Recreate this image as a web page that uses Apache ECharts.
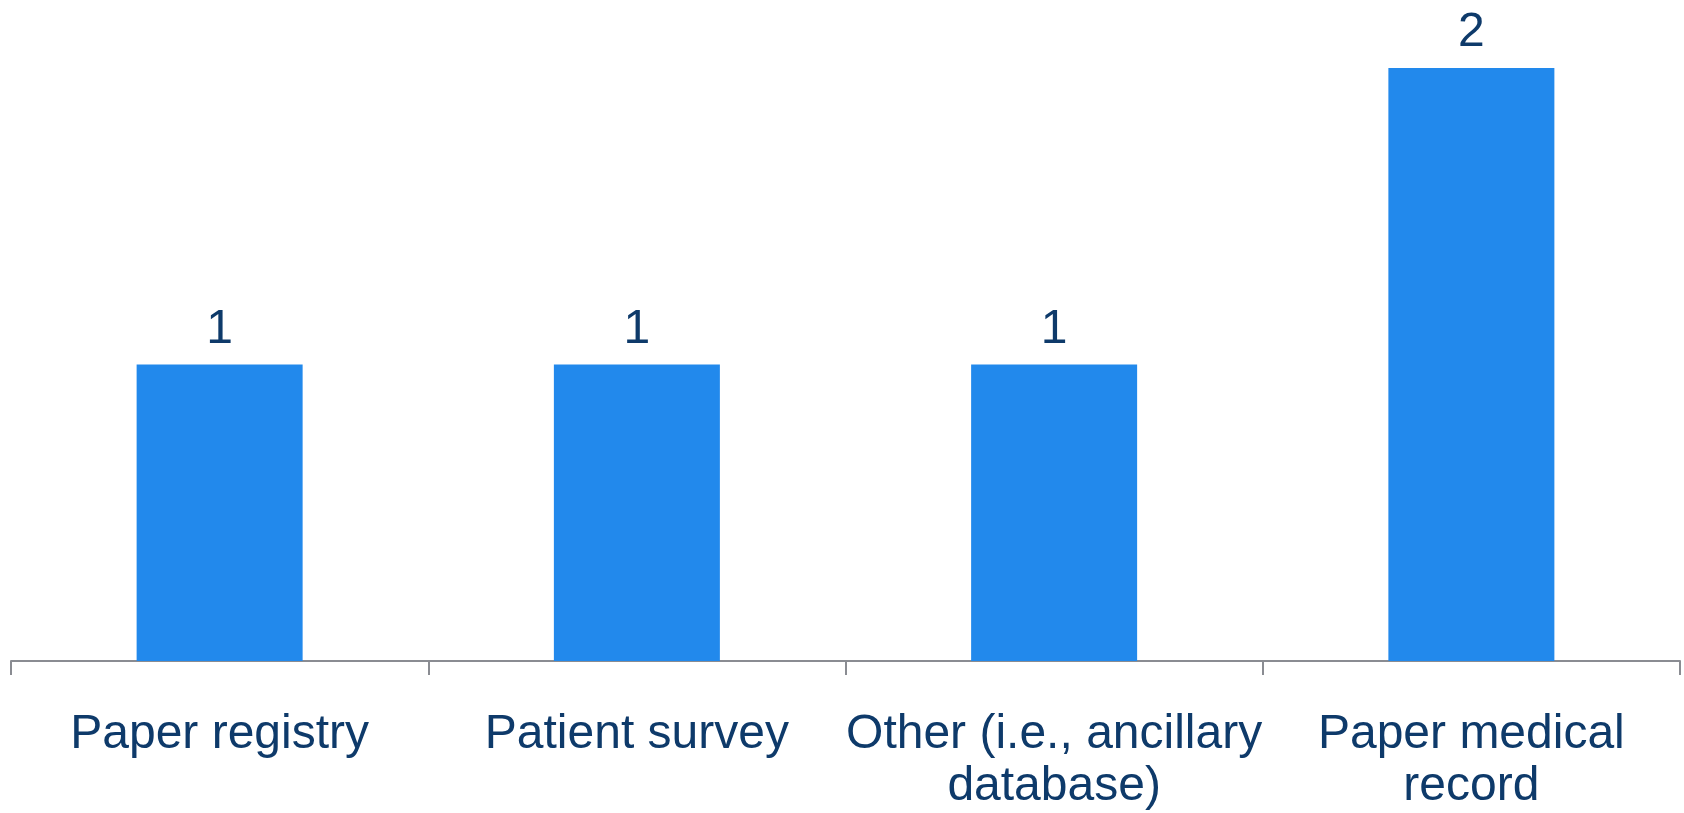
<!DOCTYPE html>
<html>
<head>
<meta charset="utf-8">
<script src="https://cdn.jsdelivr.net/npm/echarts@6/dist/echarts.min.js"></script>
<style>
html,body{margin:0;padding:0;background:#fff;}
#chart{width:1684px;height:813px;}
</style>
</head>
<body>
<div id="chart"></div>
<script>
const categories = ["Paper registry", "Patient survey", "Other (i.e., ancillary\ndatabase)", "Paper medical\nrecord"];
const values = [1, 1, 1, 2];

const chart = echarts.init(document.getElementById('chart'), null, {renderer: 'canvas'});
const textColor = '#0E3A6A';
const font = '"Liberation Sans", Arial, sans-serif';
chart.setOption({
  animation: false,
  grid: {left: 11, right: 4, top: 68, bottom: 152, containLabel: false},
  xAxis: {
    type: 'category',
    data: categories,
    axisLine: {show: true, lineStyle: {color: '#8A8C92', width: 2}},
    axisTick: {show: true, length: 14, alignWithLabel: false, lineStyle: {color: '#8A8C92', width: 2}},
    axisLabel: {
      color: textColor, fontFamily: font, fontSize: 48, lineHeight: 52,
      margin: 48, interval: 0, align: 'center'
    },
    splitLine: {show: false}
  },
  yAxis: {
    type: 'value', min: 0, max: 2, interval: 1,
    show: false,
    splitLine: {show: false}
  },
  series: [{
    type: 'bar',
    data: values,
    barWidth: 166,
    itemStyle: {color: '#2289EC'},
    label: {
      show: true, position: 'top', distance: 11,
      color: textColor, fontFamily: font, fontSize: 48
    }
  }]
});
</script>
</body>
</html>
